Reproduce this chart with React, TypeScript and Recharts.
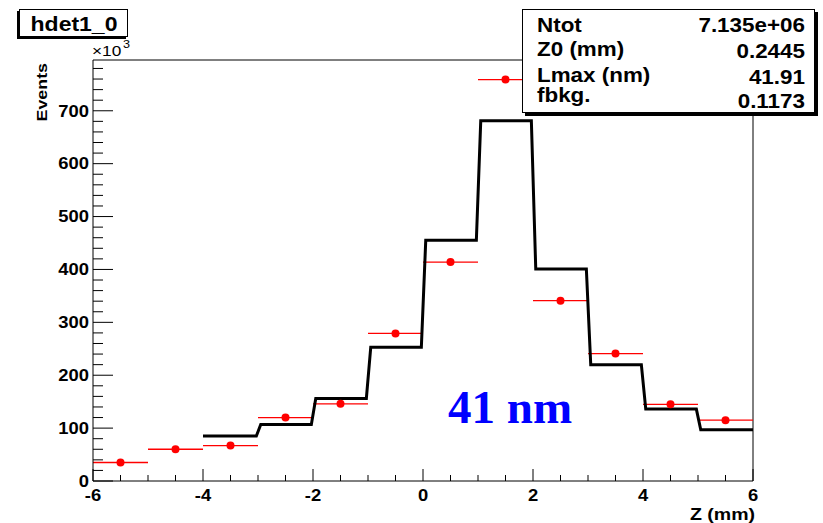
import React from 'react';
import { ComposedChart, Line, Scatter, XAxis, YAxis, ErrorBar, ReferenceLine } from 'recharts';

// Measured data points (red, x-binned) in units of 10^3 events
const binCenters = [-5.5, -4.5, -3.5, -2.5, -1.5, -0.5, 0.5, 1.5, 2.5, 3.5, 4.5, 5.5];
const dataValues = [35, 60, 67, 120, 146, 279, 414, 759, 341, 241, 145, 115];
const binHalfWidth = 0.5;

// Model histogram (black steps), one value per bin starting at fitLow
const fitLow = [-4, -3, -2, -1, 0, 1, 2, 3, 4, 5];
const fitValues = [85, 107, 156, 253, 455, 681, 401, 220, 136, 97];

// Axis ticks
const xTicks = [-6, -5.5, -5, -4.5, -4, -3.5, -3, -2.5, -2, -1.5, -1, -0.5, 0, 0.5, 1, 1.5, 2, 2.5, 3, 3.5, 4, 4.5, 5, 5.5, 6];
const xLabels = [-6, -4, -2, 0, 2, 4, 6];
const yLabels = [0, 100, 200, 300, 400, 500, 600, 700];
const yMinorStep = 20;
const yMax = 796;

// Stats box
const statNames = ['Ntot', 'Z0 (mm)', 'Lmax (nm)', 'fbkg.'];
const statValues = ['7.135e+06', '0.2445', '41.91', '0.1173'];

const histTitle = 'hdet1_0';
const annotation = '41 nm';

const yTicks: number[] = [];
for (let v = 0; v < yMax; v += yMinorStep) yTicks.push(v);

const pointData = binCenters.map((x, i) => ({ x, v: dataValues[i], ex: binHalfWidth }));

const fitData: { x: number; v: number }[] = [];
fitLow.forEach((lo, i) => {
  const v = fitValues[i];
  fitData.push({ x: i === 0 ? lo : lo + 0.05, v });
  fitData.push({ x: i === fitLow.length - 1 ? lo + 1 : lo + 1 - 0.03, v });
});

const FONT = '"Liberation Sans", Arial, Helvetica, sans-serif';
const STRETCH = 1.15;

const SText = (p: any) => {
  const { x, y, anchor = 'start', size, bold = true, rotate = 0, dy, children } = p;
  return (
    <text
      transform={`translate(${x} ${y}) rotate(${rotate}) scale(${STRETCH} 1)`}
      textAnchor={anchor}
      dy={dy}
      fontFamily={FONT}
      fontWeight={bold ? 'bold' : 'normal'}
      fontSize={size}
      fill="#000"
    >
      {children}
    </text>
  );
};

const XTick = (props: any) => {
  const { x, y, payload } = props;
  const val = payload.value;
  const major = xLabels.includes(val);
  return (
    <g>
      <line x1={x} y1={y} x2={x} y2={y - (major ? 12 : 6)} stroke="#000" strokeWidth={1} />
      {major && (
        <SText x={x} y={y + 20} anchor="middle" size={16}>
          {String(val)}
        </SText>
      )}
    </g>
  );
};

const YTick = (props: any) => {
  const { x, y, payload } = props;
  const val = payload.value;
  const major = yLabels.includes(val);
  return (
    <g>
      <line x1={x} y1={y} x2={x + (major ? 20 : 10)} y2={y} stroke="#000" strokeWidth={1} />
      {major && (
        <SText x={x - 4} y={y} dy="0.36em" anchor="end" size={16}>
          {String(val)}
        </SText>
      )}
    </g>
  );
};

const RedDot = (props: any) => {
  const { cx, cy } = props;
  return <circle cx={cx} cy={cy} r={4} fill="#ff0000" />;
};

const nameBaselines = [31.7, 55.5, 82.3, 101.7];
const valueBaselines = [31.7, 58.3, 84.3, 108.3];

export default function App() {
  return (
    <div style={{ position: 'relative', width: 823, height: 523, background: '#fff' }}>
      <style>{'body{margin:0;}'}</style>
      <ComposedChart width={823} height={523} margin={{ top: 60, right: 70, bottom: 0, left: 0 }}>
        <XAxis
          type="number"
          dataKey="x"
          domain={[-6, 6]}
          ticks={xTicks}
          interval={0}
          tickSize={0}
          tickMargin={0}
          height={42}
          tick={<XTick />}
          axisLine={{ stroke: '#000', strokeWidth: 1 }}
          allowDataOverflow
        />
        <YAxis
          type="number"
          dataKey="v"
          domain={[0, yMax]}
          ticks={yTicks}
          interval={0}
          tickSize={0}
          tickMargin={0}
          width={93}
          tick={<YTick />}
          axisLine={{ stroke: '#000', strokeWidth: 1 }}
          allowDataOverflow
        />
        <ReferenceLine y={yMax} stroke="#000" strokeWidth={1} ifOverflow="visible" />
        <ReferenceLine x={6} stroke="#000" strokeWidth={1} ifOverflow="visible" />
        <Scatter data={pointData} dataKey="v" fill="#ff0000" shape={<RedDot />} isAnimationActive={false}>
          <ErrorBar dataKey="ex" direction="x" width={0} stroke="#ff0000" strokeWidth={1.3} isAnimationActive={false} />
        </Scatter>
        <Line
          data={fitData}
          dataKey="v"
          type="linear"
          stroke="#000"
          strokeWidth={3}
          dot={false}
          activeDot={false}
          isAnimationActive={false}
        />
      </ComposedChart>
      <svg
        width={823}
        height={523}
        style={{ position: 'absolute', left: 0, top: 0, pointerEvents: 'none' }}
      >
        {/* title box */}
        <rect x={17} y={11} width={109} height={28} fill="#000" />
        <rect x={19.5} y={9.5} width={108} height={27} fill="#fff" stroke="#000" strokeWidth={1} />
        <SText x={74} y={30.5} anchor="middle" size={20}>
          {histTitle}
        </SText>
        {/* stats box */}
        <rect x={525} y={12} width={293} height={104} fill="#000" />
        <rect x={522.5} y={9.5} width={292} height={103} fill="#fff" stroke="#000" strokeWidth={1} />
        {statNames.map((n, i) => (
          <SText key={n} x={537} y={nameBaselines[i]} size={19.5}>
            {n}
          </SText>
        ))}
        {statValues.map((v, i) => (
          <SText key={v} x={805} y={valueBaselines[i]} anchor="end" size={19.5}>
            {v}
          </SText>
        ))}
        {/* exponent */}
        <SText x={92} y={56} size={15} bold={false}>
          ×10
        </SText>
        <SText x={123} y={48} size={11} bold={false}>
          3
        </SText>
        {/* axis titles */}
        <SText x={47} y={63} rotate={-90} anchor="end" size={15.5}>
          Events
        </SText>
        <SText x={755} y={520} anchor="end" size={17}>
          Z (mm)
        </SText>
        {/* annotation */}
        <text x={448} y={423} fontFamily='"Liberation Serif", "Times New Roman", serif' fontWeight="bold" fontSize={47} fill="#0000ff">
          {annotation}
        </text>
      </svg>
    </div>
  );
}
